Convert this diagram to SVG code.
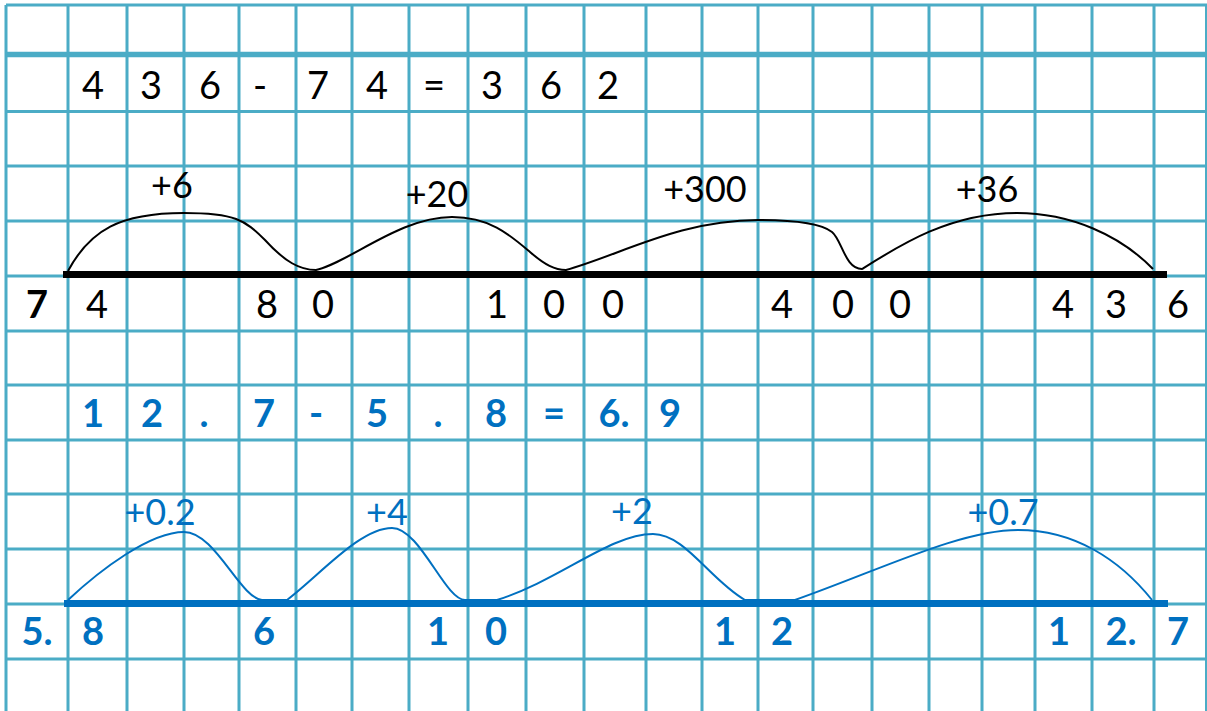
<svg xmlns="http://www.w3.org/2000/svg" width="1207" height="711" viewBox="0 0 1207 711">
<style>
.g{stroke:#4BACC6;stroke-width:3;fill:none}
.k{font-family:Lato,"Liberation Sans",sans-serif;font-size:38px;fill:#000;text-anchor:middle}
.kl{font-family:Lato,"Liberation Sans",sans-serif;font-size:36px;fill:#000;text-anchor:middle}
.b{font-family:Lato,"Liberation Sans",sans-serif;font-size:38px;font-weight:bold;fill:#0070C0;text-anchor:middle}
.bl{font-family:Lato,"Liberation Sans",sans-serif;font-size:36px;fill:#0070C0;text-anchor:middle}
.kb{font-weight:bold}
.ka{stroke:#000;stroke-width:2;fill:none}
.ba{stroke:#0070C0;stroke-width:2;fill:none}
</style>
<rect width="1207" height="711" fill="#fff"/>
<g id="grid" class="g">
<path d="M6,5V711M68,5V711M127,5V711M184,5V711M239,5V711M296,5V711M352,5V711M409,5V711M468,5V711M526,5V711M584,5V711M646,5V711M702,5V711M758,5V711M813,5V711M872,5V711M929,5V711M982,5V711M1035,5V711M1092,5V711M1154,5V711"/>
<path d="M1206,5V711" stroke-width="2"/>
<path d="M6,5H1207M6,111.5H1207M6,166H1207M6,221H1207M6,276H1207M6,331H1207M6,385H1207M6,440H1207M6,494H1207M6,549H1207M6,604H1207M6,659H1207"/>
<path d="M6,54.5H1207" stroke-width="5.5"/>
</g>
<g id="number-line-1">
<line x1="63" y1="274.5" x2="1167" y2="274.5" stroke="#000" stroke-width="7"/>
</g>
<g id="number-line-2">
<line x1="64" y1="603.5" x2="1168" y2="603.5" stroke="#0070C0" stroke-width="7"/>
</g>
<g id="connectors">
<path class="ka" d="M68,271 C90,230 120,213 184,213 C235,213 245,220 265,240 C285,262 300,270 316,270 C350,262 400,217 452,217 C490,217 510,235 530,252 C545,265 555,270 566,270 C620,255 680,220 758,220 C800,220 822,224 832,232 C842,240 845,269 862,269 C900,245 950,213 1017,213 C1070,213 1120,235 1153,269"/>
<path class="ba" d="M68,600 C100,570 150,532 184,532 C215,532 240,598 262,600 L287,600 C320,575 360,528 392,528 C420,528 445,600 465,600 L497,600 C560,580 610,534 653,534 C685,534 710,580 745,600 L795,600 C880,570 960,530 1018,530 C1075,530 1120,560 1152,600"/>
</g>
<g id="equation-1">
<text class="k" x="93" y="99">4</text>
<text class="k" x="151" y="99">3</text>
<text class="k" x="210" y="99">6</text>
<text class="k" x="260" y="99">-</text>
<text class="k" x="318" y="99">7</text>
<text class="k" x="377" y="99">4</text>
<text class="k" x="434" y="99">=</text>
<text class="k" x="492" y="99">3</text>
<text class="k" x="551" y="99">6</text>
<text class="k" x="608" y="99">2</text>
</g>
<g id="jumps-1">
<text class="kl" x="172" y="198">+6</text>
<text class="kl" x="437" y="207">+20</text>
<text class="kl" x="705" y="202">+300</text>
<text class="kl" x="987" y="202">+36</text>
</g>
<g id="marks-1">
<text class="k kb" x="37" y="318">7</text>
<text class="k" x="97" y="318">4</text>
<text class="k" x="267" y="318">8</text>
<text class="k" x="323" y="318">0</text>
<text class="k" x="497" y="318">1</text>
<text class="k" x="554" y="318">0</text>
<text class="k" x="613" y="318">0</text>
<text class="k" x="782" y="318">4</text>
<text class="k" x="843" y="318">0</text>
<text class="k" x="900" y="318">0</text>
<text class="k" x="1063" y="318">4</text>
<text class="k" x="1116" y="318">3</text>
<text class="k" x="1178" y="318">6</text>
</g>
<g id="equation-2">
<text class="b" x="93" y="427">1</text>
<text class="b" x="152" y="427">2</text>
<text class="b" x="204" y="427">.</text>
<text class="b" x="264" y="427">7</text>
<text class="b" x="316" y="427">-</text>
<text class="b" x="377" y="427">5</text>
<text class="b" x="438" y="427">.</text>
<text class="b" x="496" y="427">8</text>
<text class="b" x="554" y="427">=</text>
<text class="b" x="614" y="427">6.</text>
<text class="b" x="670" y="427">9</text>
</g>
<g id="jumps-2">
<text class="bl" x="160" y="525">+0.2</text>
<text class="bl" x="387" y="525">+4</text>
<text class="bl" x="632" y="524">+2</text>
<text class="bl" x="1003" y="525">+0.7</text>
</g>
<g id="marks-2">
<text class="b" x="37" y="645">5.</text>
<text class="b" x="93" y="645">8</text>
<text class="b" x="264" y="645">6</text>
<text class="b" x="438" y="645">1</text>
<text class="b" x="496" y="645">0</text>
<text class="b" x="725" y="645">1</text>
<text class="b" x="782" y="645">2</text>
<text class="b" x="1059" y="645">1</text>
<text class="b" x="1121" y="645">2.</text>
<text class="b" x="1178" y="645">7</text>
</g>
</svg>
